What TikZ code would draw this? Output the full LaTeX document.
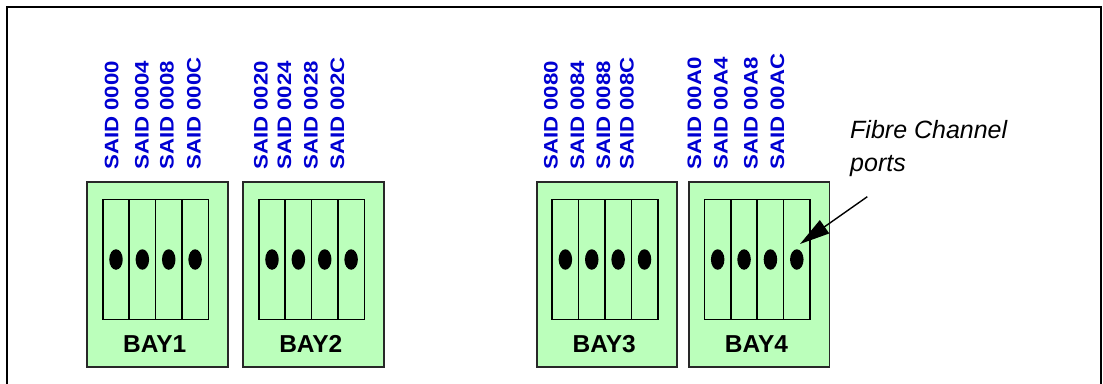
\documentclass[tikz,border=0pt]{standalone}
\usepackage{fontspec}
\setmainfont{Liberation Sans}
\usetikzlibrary{arrows.meta,shapes.geometric}
\definecolor{bayfill}{RGB}{187,255,187}
\definecolor{saidblue}{RGB}{0,0,210}
\definecolor{bayedge}{RGB}{40,40,40}
\begin{document}
\begin{tikzpicture}[x=1pt,y=-1pt,
  frame/.style={line width=2pt,line cap=rect},
  baybox/.style={draw=bayedge,fill=bayfill,line width=1.9pt},
  slotbox/.style={draw=black,line width=1.6pt},
  port/.style={ellipse,fill=black,draw=none,minimum width=13.5pt,minimum height=20.5pt,inner sep=0pt},
  said/.style={rotate=90,anchor=west,inner sep=0pt,text=saidblue,font=\fontsize{19.5}{21}\selectfont\bfseries},
  baylabel/.style={anchor=base,inner sep=0pt,font=\fontsize{24.5}{28}\selectfont\bfseries},
  note/.style={anchor=base west,inner sep=0pt,font=\fontsize{25}{30}\selectfont\itshape},
  pointer/.style={line width=1.4pt,-{Triangle[length=30pt,width=16pt]}}]
\useasboundingbox (0,0) rectangle (1103,383);
% frame (open at bottom)
\draw[frame] (7,383) -- (7,7) -- (1101,7) -- (1101,383);
% bays
\foreach \L/\n in {87.3/1,243.3/2,536.7/3,689/4}{
  \draw[baybox] (\L,181.7) rectangle ({\L+140.5},366.7);
  \draw[slotbox] ({\L+15.5},199.3) rectangle ({\L+121},319.3);
  \foreach \k in {1,2,3}{
    \draw[slotbox] ({\L+15.5+\k*26.375},199.3) -- ({\L+15.5+\k*26.375},319.3);
  }
  \foreach \k in {1,2,3,4}{
    \node[port] (p\n\k) at ({\L+15.5+(\k-0.5)*26.375},259.5) {};
  }
  \node[baylabel] (bay\n) at ({\L+67.5},352.7) {BAY\n};
}
% SAID labels
\foreach \x/\t in {111.7/0000,142/0004,167/0008,194/000C,
                   261/0020,284.5/0024,311/0028,337.5/002C,
                   551/0080,577.5/0084,603.5/0088,627/008C,
                   694.5/00A0,721/00A4,751/00A8,777.5/00AC}{
  \node[said] (s\t) at (\x,170) {\scalebox{1.14}[1]{SAID \t}};
}
% annotation
\node[note] (fc1) at (850,138) {Fibre Channel};
\node[note] (fc2) at (850,171.7) {ports};
\coordinate (arrstart) at (867.3,196.7);
\coordinate (arrtip) at (800,244);
\draw[pointer] (arrstart) -- (arrtip);
\end{tikzpicture}
\end{document}
